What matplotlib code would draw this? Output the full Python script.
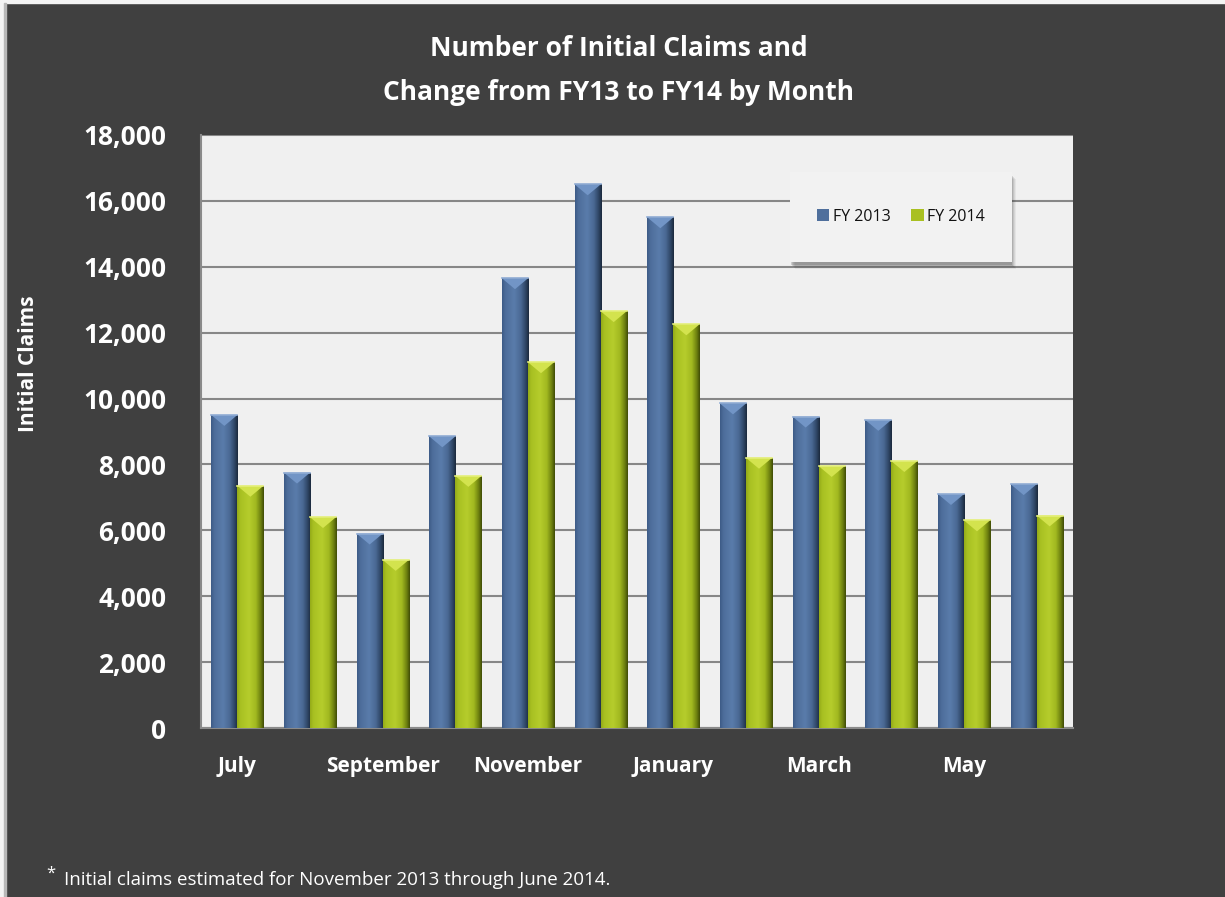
import numpy as np
import matplotlib
matplotlib.use("Agg")
import matplotlib.pyplot as plt
from matplotlib.patches import Rectangle, Polygon
from matplotlib.colors import to_rgba
from matplotlib.ticker import FuncFormatter

months = ["July", "August", "September", "October", "November", "December",
          "January", "February", "March", "April", "May", "June"]
fy2013 = [9500, 7750, 5900, 8850, 13650, 16500, 15500, 9850, 9450, 9350, 7100, 7400]
fy2014 = [7350, 6400, 5100, 7650, 11100, 12650, 12250, 8200, 7950, 8100, 6300, 6450]
series_names = ["FY 2013", "FY 2014"]
title_lines = ["Number of Initial Claims and", "Change from FY13 to FY14 by Month"]
ylabel = "Initial Claims"
footnote = "Initial claims estimated for November 2013 through June 2014."

plt.rcParams['font.family'] = ['Open Sans', 'DejaVu Sans']

W, H = 1225, 897
BG = "#404040"
fig = plt.figure(figsize=(W / 100, H / 100), dpi=100, facecolor=BG)
# thin frame at left/top
fig.add_artist(Rectangle((0, 0), 4 / W, 1, transform=fig.transFigure, color="#f4f4f4", zorder=0))
fig.add_artist(Rectangle((0, 1 - 3 / H), 1, 3 / H, transform=fig.transFigure, color="#f4f4f4", zorder=0))
fig.add_artist(Rectangle((4 / W, 0), 1.5 / W, 1 - 3 / H, transform=fig.transFigure, color="#b8b8b8", zorder=0))

ax = fig.add_axes([201 / W, 1 - 728 / H, 872 / W, 593 / H])
ax.set_facecolor("#f0f0f0")

n = len(months)
idx = np.arange(n) + 0.5
w = 0.358
blue = "#4f6f9c"
green = "#a9c021"
b1 = ax.bar(idx - w / 2, fy2013, width=w, color=blue, zorder=3, label=series_names[0])
b2 = ax.bar(idx + w / 2, fy2014, width=w, color=green, zorder=3, label=series_names[1])


def grad_img(stops):
    xs = np.linspace(0, 1, 64)
    pos = [s[0] for s in stops]
    cols = np.array([to_rgba(s[1]) for s in stops])
    img = np.zeros((1, 64, 4))
    for c in range(4):
        img[0, :, c] = np.interp(xs, pos, cols[:, c])
    return img


blue_grad = grad_img([(0, "#3d5b86"), (0.12, "#4d6d9a"), (0.45, "#5a7cab"),
                      (0.7, "#4a6994"), (0.88, "#2f4666"), (1, "#1c2a3d")])
green_grad = grad_img([(0, "#94ab18"), (0.12, "#a8c022"), (0.45, "#b6cd2c"),
                       (0.7, "#a2b920"), (0.88, "#6f8210"), (1, "#414d06")])

depth = 330
for bars, g, topc, edgec in [(b1, blue_grad, "#7295c6", "#90acd4"),
                             (b2, green_grad, "#d3e34e", "#e4ef7a")]:
    for p in bars:
        x0, bw, h = p.get_x(), p.get_width(), p.get_height()
        im = ax.imshow(g, extent=(x0, x0 + bw, 0, h), aspect='auto',
                       interpolation='bilinear', zorder=4)
        im.set_clip_path(p)
        tri = Polygon([(x0, h), (x0 + bw, h), (x0 + bw / 2, h - depth)],
                      closed=True, facecolor=topc, edgecolor='none', zorder=5)
        ax.add_patch(tri)
        ax.plot([x0, x0 + bw], [h, h], color=edgec, lw=1.2, zorder=6)

ax.set_xlim(0, n)
ax.set_ylim(0, 18000)
ax.set_yticks(np.arange(0, 18001, 2000))
ax.yaxis.set_major_formatter(FuncFormatter(lambda v, p: f"{int(v):,}"))
ax.set_xticks(idx[::2])
ax.set_xticklabels(months[::2])
ax.grid(axis='y', color="#878787", lw=1.5, zorder=1)
ax.set_axisbelow(True)
for s in ["top", "right"]:
    ax.spines[s].set_visible(False)
for s in ["left", "bottom"]:
    ax.spines[s].set_color("#8a8a8a")
    ax.spines[s].set_linewidth(1.5)
ax.tick_params(axis='both', length=0, colors="white")
ax.tick_params(axis='y', pad=25, labelsize=19)
ax.tick_params(axis='x', pad=20, labelsize=15)
for t in ax.get_yticklabels() + ax.get_xticklabels():
    t.set_fontweight('bold')
    t.set_color('white')

# legend box with soft shadow (axes-fraction coordinates)
lx0, ly0, lw_, lh_ = 0.675, 0.786, 0.255, 0.152
px, py = 1 / 872, 1 / 593
for k, a in [(7, 0.06), (6, 0.08), (5, 0.10), (4, 0.14), (3, 0.18)]:
    ax.add_patch(Rectangle((lx0 + (k - 2) * px, ly0 - k * py), lw_ - 1 * px, lh_,
                           transform=ax.transAxes, facecolor="#303030", alpha=a,
                           edgecolor='none', zorder=8))
ax.add_patch(Rectangle((lx0, ly0), lw_, lh_, transform=ax.transAxes,
                       facecolor="#f2f2f2", edgecolor='none', zorder=9))
leg = ax.legend(handles=[b1, b2], ncol=2, loc='center',
                bbox_to_anchor=(lx0 + lw_ / 2, ly0 + lh_ / 2),
                frameon=False, handlelength=0.8, handleheight=0.8, handletextpad=0.2,
                columnspacing=1.3, fontsize=11.5)
for t in leg.get_texts():
    t.set_color("#111111")
leg.set_zorder(10)

fig.text(0.505, 1 - 48 / H, title_lines[0], ha='center', va='center', color='white',
         fontsize=19, fontweight='bold')
fig.text(0.505, 1 - 93 / H, title_lines[1], ha='center', va='center', color='white',
         fontsize=19, fontweight='bold')
fig.text(28 / W, 1 - 364 / H, ylabel, rotation=90, ha='center', va='center',
         color='white', fontsize=15, fontweight='bold')
fig.text(46 / W, 1 - 874 / H, "*", ha='left', va='center', color='white', fontsize=12)
fig.text(64 / W, 1 - 880 / H, footnote, ha='left', va='center', color='white', fontsize=13.5)

fig.savefig("out.png", dpi=100, facecolor=BG)
